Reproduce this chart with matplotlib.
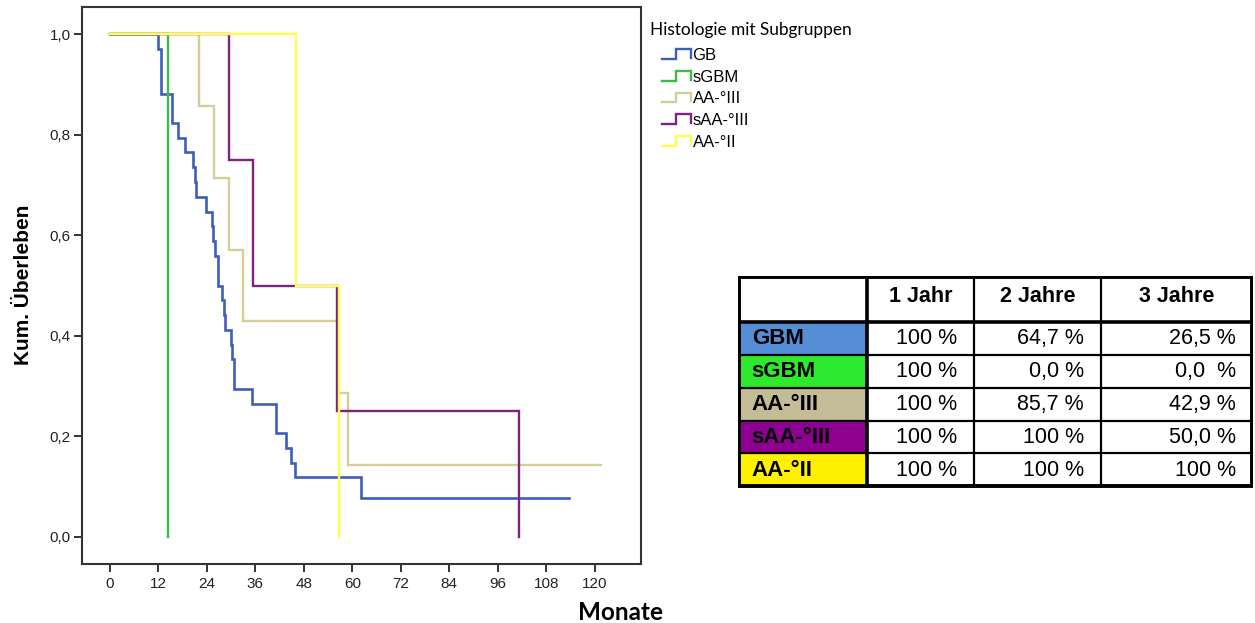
import numpy as np
import matplotlib
matplotlib.use("Agg")
import matplotlib.pyplot as plt
from matplotlib.lines import Line2D
from matplotlib.patches import Rectangle
from matplotlib.legend_handler import HandlerBase

# ---------------- data ----------------
GB_months = [0, 12.0, 12.6, 15.4, 16.8, 18.7, 20.6, 21.0, 21.4, 23.8,
             25.3, 25.6, 26.0, 26.8, 26.9, 27.9, 28.3, 28.6, 30.0, 30.2,
             30.7, 30.8, 35.3, 41.2, 43.7, 44.8, 45.9, 62.2]
GB_surv = [1.0, 0.971, 0.882, 0.824, 0.794, 0.765, 0.735, 0.706, 0.676, 0.647,
           0.618, 0.588, 0.559, 0.529, 0.500, 0.471, 0.441, 0.412, 0.382, 0.353,
           0.324, 0.294, 0.265, 0.206, 0.176, 0.147, 0.118, 0.078]
GB_end = 113.5

sGBM_months = [0, 14.5]
sGBM_surv = [1.0, 0.0]

AA3_months = [0, 22.0, 25.7, 29.4, 32.9, 56.4, 58.9]
AA3_surv = [1.0, 0.857, 0.714, 0.571, 0.429, 0.286, 0.143]
AA3_end = 121.6

sAA3_months = [0, 29.4, 35.5, 56.2, 101.2]
sAA3_surv = [1.0, 0.75, 0.5, 0.25, 0.0]

AA2_months = [0, 46.1, 56.6]
AA2_surv = [1.0, 0.5, 0.0]

legend_title = "Histologie mit Subgruppen"
legend_labels = ["GB", "sGBM", "AA-°III", "sAA-°III", "AA-°II"]
line_colors = ["#3F5DBA", "#3DBB48", "#D6CE98", "#7E2281", "#FFFF4D"]

x_ticks = [0, 12, 24, 36, 48, 60, 72, 84, 96, 108, 120]
y_ticks = [0.0, 0.2, 0.4, 0.6, 0.8, 1.0]

table_header = ["1 Jahr", "2 Jahre", "3 Jahre"]
table_rows = ["GBM", "sGBM", "AA-°III", "sAA-°III", "AA-°II"]
table_row_colors = ["#558ED5", "#2EEA2E", "#C4BC96", "#8E008F", "#FFF000"]
year1 = ["100 %", "100 %", "100 %", "100 %", "100 %"]
year2 = ["64,7 %", "0,0 %", "85,7 %", "100 %", "100 %"]
year3 = ["26,5 %", "0,0  %", "42,9 %", "50,0 %", "100 %"]

# ---------------- figure ----------------
W, H = 1255, 623
fig = plt.figure(figsize=(W / 100, H / 100), dpi=100)
fig.patch.set_facecolor("white")

def fx(px):
    return px / W

def fy(py):
    return 1 - py / H

ax_l, ax_r, ax_t, ax_b = 81.7, 641.0, 6.7, 564.3
ax = fig.add_axes([fx(ax_l), fy(ax_b), fx(ax_r - ax_l), (ax_b - ax_t) / H])
ax.set_xlim(-6.9, 131.4)
ax.set_ylim(-0.0549, 1.0549)

series = [
    (GB_months, GB_surv, GB_end),
    (sGBM_months, sGBM_surv, None),
    (AA3_months, AA3_surv, AA3_end),
    (sAA3_months, sAA3_surv, None),
    (AA2_months, AA2_surv, None),
]
handles = []
for (m, s, end), lab, col in zip(series, legend_labels, line_colors):
    xs = list(m)
    ys = list(s)
    if end is not None:
        xs.append(end)
        ys.append(s[-1])
    lw = 1.9 if lab == "GB" else 1.7
    ln, = ax.plot(xs, ys, drawstyle="steps-post", color=col, lw=lw,
                  solid_joinstyle="miter", label=lab)
    handles.append(ln)

tick_font = ["Liberation Sans Narrow", "Liberation Sans"]
ax.set_xticks(x_ticks)
ax.set_xticklabels([str(t) for t in x_ticks], family=tick_font, fontsize=11,
                   color="#222222")
ax.set_yticks(y_ticks)
ax.set_yticklabels([f"{t:.1f}".replace(".", ",") for t in y_ticks],
                   family=tick_font, fontsize=11, color="#222222")
ax.tick_params(axis="both", direction="out", length=6, width=1.4, color="#333333")
ax.tick_params(axis="x", pad=3)
ax.tick_params(axis="y", pad=2)
for sp in ax.spines.values():
    sp.set_color("#333333")
    sp.set_linewidth(1.5)

ax.set_ylabel("Kum. Überleben", family="Liberation Sans", fontweight="bold",
              fontsize=15, va="center")
ax.yaxis.set_label_coords((24 - ax_l) / (ax_r - ax_l), (ax_b - 285) / (ax_b - ax_t))
ax.set_xlabel("Monate", family="Lato", fontweight="bold", fontsize=17.5)
ax.xaxis.set_label_coords((620 - ax_l) / (ax_r - ax_l), (ax_b - 612) / (ax_b - ax_t))
ax.xaxis.label.set_va("center")


class StepHandler(HandlerBase):
    def create_artists(self, legend, orig_handle, xdescent, ydescent, width,
                       height, fontsize, trans):
        x0 = 0.29
        xs = (x0 + (1 - x0) * np.array([0, 0.5, 0.5, 1.0, 1.0])) * width - xdescent
        ys = np.array([0.1, 0.1, 0.9, 0.9, 0.2]) * height - ydescent
        l = Line2D(xs, ys, color=orig_handle.get_color(), lw=1.7,
                   solid_joinstyle="miter")
        l.set_transform(trans)
        return [l]

fig.text(fx(650), fy(30), legend_title, family="Lato", fontsize=12.4,
         ha="left", va="center")
leg = fig.legend(handles=handles, labels=legend_labels,
                 handler_map={Line2D: StepHandler()},
                 loc="upper left", bbox_to_anchor=(fx(650), fy(48)),
                 bbox_transform=fig.transFigure, frameon=False,
                 borderpad=0, borderaxespad=0, handlelength=2.45,
                 handleheight=0.75, handletextpad=0.1, labelspacing=0.4,
                 prop={"family": "Liberation Sans", "size": 12})

# ---------------- table ----------------
tl, tr, tt, tb = 737.7, 1253.0, 276.0, 488.0
tax = fig.add_axes([fx(tl), fy(tb), fx(tr - tl), (tb - tt) / H])
tax.set_xlim(tl, tr)
tax.set_ylim(tb, tt)
tax.axis("off")

col_edges = [tl, 866.7, 974.3, 1101.0, tr]
row_edges = [tt, 321.7, 355.5, 388.5, 421.0, 453.5, tb]

for i, c in enumerate(table_row_colors):
    tax.add_patch(Rectangle((col_edges[0], row_edges[i + 1]),
                            col_edges[1] - col_edges[0],
                            row_edges[i + 2] - row_edges[i + 1],
                            facecolor=c, edgecolor="none", zorder=1))

for xe in col_edges[2:4]:
    tax.plot([xe, xe], [tt, tb], color="black", lw=1.6, zorder=3,
             solid_capstyle="butt")
for ye in row_edges[2:6]:
    tax.plot([tl, tr], [ye, ye], color="black", lw=1.6, zorder=3,
             solid_capstyle="butt")
tax.plot([col_edges[1], col_edges[1]], [tt, tb], color="black", lw=2.6, zorder=3,
         solid_capstyle="butt")
tax.plot([tl, tr], [row_edges[1], row_edges[1]], color="black", lw=2.6, zorder=3,
         solid_capstyle="butt")
tax.add_patch(Rectangle((tl + 1.5, tt + 1.5), tr - tl - 3, tb - tt - 3,
                        facecolor="none", edgecolor="black", lw=2.8, zorder=4))

tfont = "Liberation Sans"
for j, h in enumerate(table_header):
    tax.text((col_edges[j + 1] + col_edges[j + 2]) / 2,
             (row_edges[0] + row_edges[1]) / 2 - 2, h, ha="center", va="center",
             family=tfont, fontweight="bold", fontsize=15.5, zorder=5)
for i, lab in enumerate(table_rows):
    yc = (row_edges[i + 1] + row_edges[i + 2]) / 2
    tax.text(col_edges[0] + 14, yc, lab, ha="left", va="center", family=tfont,
             fontweight="bold", fontsize=16, zorder=5)
    for j, vals in enumerate([year1, year2, year3]):
        tax.text(col_edges[j + 2] - 17, yc, vals[i], ha="right", va="center",
                 family=tfont, fontsize=15.5, zorder=5)

fig.savefig("out.png", dpi=100)
